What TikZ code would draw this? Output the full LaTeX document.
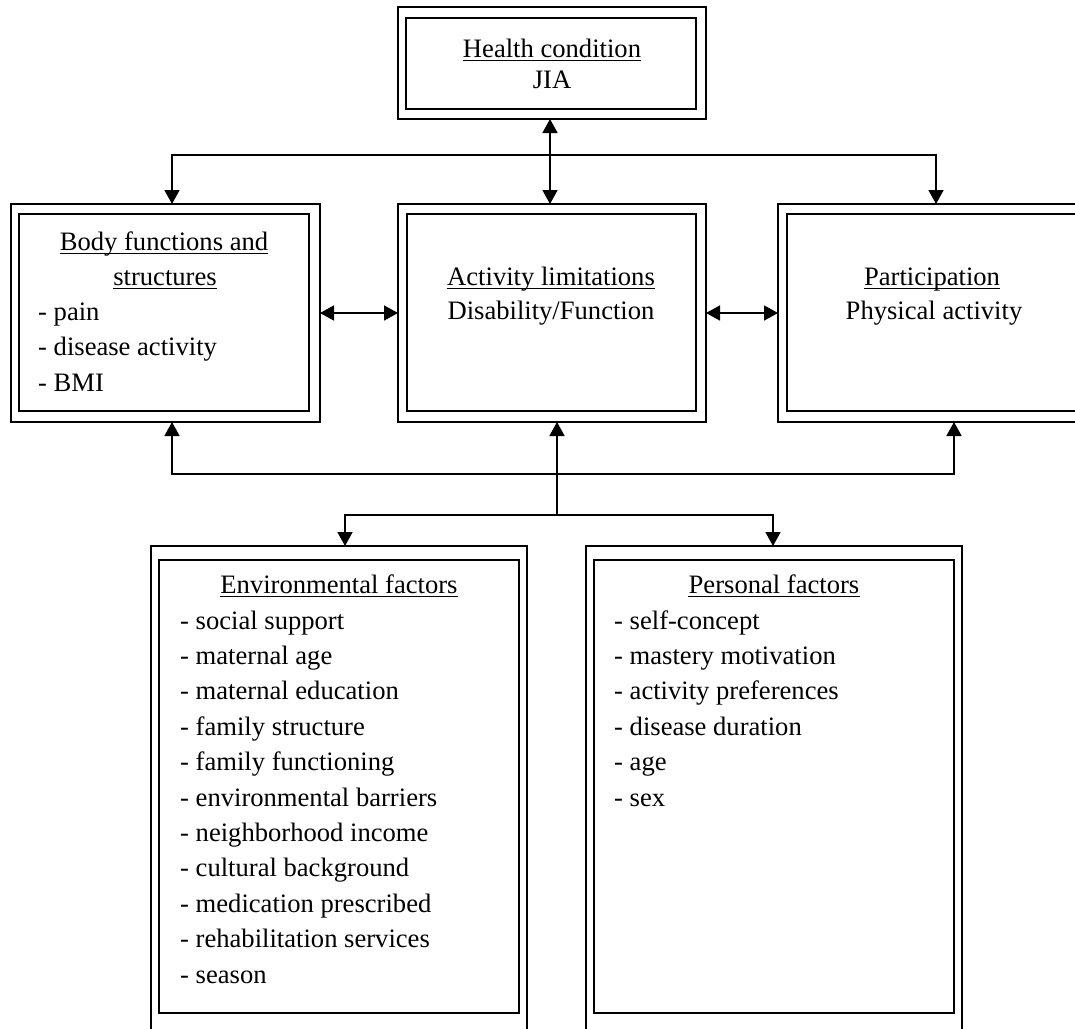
\documentclass[tikz,border=0pt]{standalone}
\usepackage{fontspec}
\setmainfont{Liberation Serif}
\usetikzlibrary{arrows.meta}
\tikzset{
  outerbox/.style={draw, line width=2pt, rectangle, inner sep=0pt, outer sep=0pt},
  innerbox/.style={draw, line width=2pt, rectangle, inner sep=0pt, outer sep=0pt},
  txt/.style={anchor=base, inner sep=0pt, font=\fontsize{26.6pt}{32pt}\selectfont},
  txtl/.style={anchor=base west, inner sep=0pt, font=\fontsize{26.6pt}{32pt}\selectfont},
  ulline/.style={line width=1.6pt},
  conn/.style={line width=1.6pt, arrows={-Triangle[length=14pt,width=15pt]}},
  conn2/.style={line width=1.6pt, arrows={Triangle[length=14pt,width=15pt]-Triangle[length=14pt,width=15pt]}},
}
\newcommand{\ulunder}[1]{\draw[ulline] ([yshift=-3.3pt]#1.base west) -- ([yshift=-3.3pt]#1.base east);}
\begin{document}
\begin{tikzpicture}[x=1pt,y=-1pt]
\useasboundingbox (0,0) rectangle (1075,1028);
\fill[white] (0,0) rectangle (1075,1028);
\clip (0,0) rectangle (1075,1028);

% Health condition
\node[outerbox, minimum width=308pt, minimum height=112pt] (hc) at (552,63) {};
\node[innerbox, minimum width=290pt, minimum height=91pt] (hci) at (551,63.5) {};
\node[txt] (hct1) at (552,57) {Health condition};
\node[txt] (hct2) at (552,88) {JIA};
\ulunder{hct1}

% Body functions
\node[outerbox, minimum width=309pt, minimum height=218pt] (bf) at (165.5,313) {};
\node[innerbox, minimum width=290pt, minimum height=197pt] (bfi) at (164,312.5) {};
\node[txt] (bft1) at (164,250) {Body functions and};
\node[txt] (bft2) at (165,285) {structures};
\ulunder{bft1}
\ulunder{bft2}
\node[txtl] (bft3) at (38,320) {- pain};
\node[txtl] (bft4) at (38,355.5) {- disease activity};
\node[txtl] (bft5) at (38,391) {- BMI};

% Activity limitations
\node[outerbox, minimum width=308pt, minimum height=218pt] (al) at (552,313) {};
\node[innerbox, minimum width=289pt, minimum height=197pt] (ali) at (551.5,312.5) {};
\node[txt] (alt1) at (551,285) {Activity limitations};
\node[txt] (alt2) at (551,319) {Disability/Function};
\ulunder{alt1}

% Participation
\node[outerbox, minimum width=308pt, minimum height=218pt] (pa) at (932,313) {};
\node[innerbox, minimum width=290pt, minimum height=197pt] (pai) at (932,312.5) {};
\node[txt] (pat1) at (932,285) {Participation};
\node[txt] (pat2) at (934,319) {Physical activity};
\ulunder{pat1}

% Environmental factors
\node[outerbox, minimum width=376pt, minimum height=494pt] (ef) at (339,793) {};
\node[innerbox, minimum width=360pt, minimum height=453pt] (efi) at (339,786.5) {};
\node[txt] (eft0) at (339,593) {Environmental factors};
\ulunder{eft0}
\foreach \t [count=\i] in {social support, maternal age, maternal education, family structure, family functioning, environmental barriers, neighborhood income, cultural background, medication prescribed, rehabilitation services, season}
  \node[txtl] (eft\i) at (180,{629+35.4*(\i-1)}) {- \t};

% Personal factors
\node[outerbox, minimum width=376pt, minimum height=494pt] (pf) at (774,793) {};
\node[innerbox, minimum width=360pt, minimum height=453pt] (pfi) at (774,786.5) {};
\node[txt] (pft0) at (774,593) {Personal factors};
\ulunder{pft0}
\foreach \t [count=\i] in {self-concept, mastery motivation, activity preferences, disease duration, age, sex}
  \node[txtl] (pft\i) at (614,{629+35.4*(\i-1)}) {- \t};

% junction coordinates
\coordinate (cx) at (550,0);
\coordinate (tl) at (172,155);
\coordinate (tr) at (936,155);
\coordinate (bl) at (172,474);
\coordinate (br) at (954,474);
\coordinate (mj) at (557,515);
\coordinate (el) at (345,515);
\coordinate (er) at (773,515);

% connectors
\draw[conn2] (cx |- hc.south) -- (cx |- al.north);
\draw[conn2, line join=miter] (tl |- bf.north) -- (tl) -- (tr) -- (tr |- pa.north);
\draw[conn2] (bf.east) -- (al.west);
\draw[conn2] (al.east) -- (pa.west);
\draw[conn2, line join=miter] (bl |- bf.south) -- (bl) -- (br) -- (br |- pa.south);
\draw[conn] (mj) -- (mj |- al.south);
\draw[conn2, line join=miter] (el |- ef.north) -- (el) -- (er) -- (er |- pf.north);
\end{tikzpicture}
\end{document}
